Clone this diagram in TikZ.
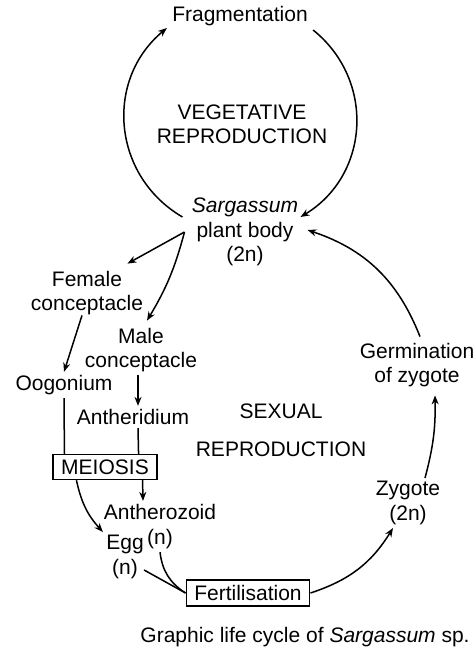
\documentclass[tikz,border=0pt]{standalone}
\usepackage{fontspec}
\setmainfont{Liberation Sans}
\usetikzlibrary{arrows.meta,positioning,calc}

\begin{document}
\begin{tikzpicture}[
  x=0.5pt, y=0.5pt,
  font=\fontsize{10.5}{12.2}\selectfont,
  stage/.style={align=center,inner sep=1.5pt},
  stagebox/.style={draw,line width=0.8pt,inner xsep=4pt,inner ysep=2.5pt},
  arrow/.style={-{Stealth[length=4.5pt,width=3.5pt]},line width=0.75pt},
  link/.style={line width=0.75pt}
]
  \useasboundingbox (0,0) rectangle (475,-653);

  % vegetative cycle
  \node[stage] (frag) at (240,-16) {Fragmentation};
  \node[stage] (veg) at (242,-124) {VEGETATIVE\\REPRODUCTION};
  \node[stage] (body) at (245,-232) {\textit{Sargassum}\\plant body\\(2n)};

  \draw[arrow] ([shift={(-6,15)}]body.west) to[bend left=55,looseness=1.1] ([shift={(-2,-12)}]frag.west);
  \draw[arrow] ([shift={(2,-14)}]frag.east) to[bend left=55,looseness=1.1] ([shift={(-1,15)}]body.east);

  % sexual cycle
  \node[stage] (female) at (87,-293) {Female\\conceptacle};
  \node[stage] (male) at (141,-350) {Male\\conceptacle};
  \node[stage] (oog) at (64,-385) {Oogonium};
  \node[stage] (anth) at (133,-417) {Antheridium};
  \node[stage] (sexual) at (281,-430) {SEXUAL\\[7pt]REPRODUCTION};
  \node[stagebox] (meiosis) at (105,-467) {MEIOSIS};
  \node[stage] (antz) at (160,-512) {Antherozoid};
  \node[stage] (egg) at (125,-557) {Egg\\(n)};
  \node[stage] (antn) at (160,-539) {(n)};
  \node[stagebox] (fert) at (248,-593) {Fertilisation};
  \node[stage] (zyg) at (408,-503) {Zygote\\(2n)};
  \node[stage] (germ) at (417,-365) {Germination\\of zygote};

  \draw[arrow] ([shift={(-4,0)}]body.west) -- ([shift={(-19,4)}]female.north east);
  \draw[arrow] ([shift={(-4,0)}]body.west) to[bend left=8] ([shift={(6,4)}]male.north);
  \draw[arrow] ([shift={(-5,3)}]female.south) -- (oog.north);
  \draw[arrow] ([shift={(-3,0)}]male.south) -- ([shift={(5,0)}]anth.north);

  \draw[link] (oog.south) -- ([shift={(12,0)}]meiosis.north west);
  \draw[link] ([shift={(5,0)}]anth.south) -- ([shift={(-19,0)}]meiosis.north east);
  \draw[arrow] ([shift={(24,0)}]meiosis.south west) to[bend right=15] (egg.north west);
  \draw[arrow] ([shift={(-15,0)}]meiosis.south east) -- ([shift={(-17,0)}]antz.north);

  \draw[link] ([shift={(-3,-13)}]egg.east) -- (fert.west);
  \draw[link] (antn.south) to[bend right=25] (fert.west);

  \draw[arrow] (fert.east) to[bend right=20] ([shift={(-15,0)}]zyg.south);
  \draw[arrow] ([shift={(17,0)}]zyg.north) to[bend right=8] ([shift={(18,-5)}]germ.south);
  \draw[arrow] ([shift={(3,3)}]germ.north) to[bend right=25] ([shift={(6,2)}]body.east);

  \node[stage] (caption) at (305,-637) {Graphic life cycle of \textit{Sargassum} sp.};
\end{tikzpicture}
\end{document}
